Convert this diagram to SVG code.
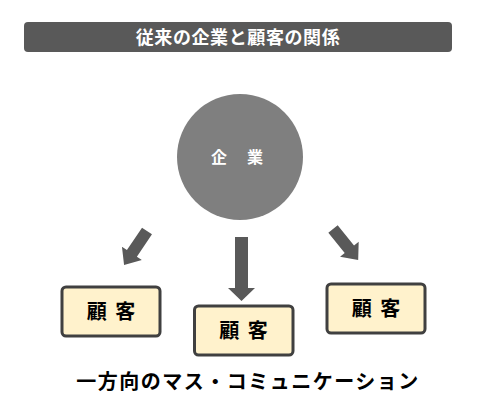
<svg xmlns="http://www.w3.org/2000/svg" width="495" height="407" viewBox="0 0 495 407">
<style>
.jp{font-family:"Noto Sans CJK JP","Noto Sans CJK SC",sans-serif;font-weight:bold}
.box{fill:#FFF2CC;stroke:#404040;stroke-width:3}
.arr{fill:#595959}
.bt{font-size:20px;fill:#000;text-anchor:middle;letter-spacing:2px}
</style>
<rect width="495" height="407" fill="#fff"/>
<g id="title">
<rect x="24" y="22" width="428" height="30" rx="4" fill="#595959"/>
<text class="jp" x="238" y="43.5" font-size="18" fill="#fff" text-anchor="middle" letter-spacing="0.6">従来の企業と顧客の関係</text>
</g>
<g id="company">
<circle cx="240" cy="157" r="63" fill="#7F7F7F"/>
<text class="jp" x="211 247" y="162.5" font-size="16" fill="#fff">企業</text>
</g>
<g id="connectors">
<path class="arr" transform="translate(147,231) rotate(34)" d="M-6,0H6V27H12L0,41L-12,27H-6Z"/>
<path class="arr" transform="translate(241.5,237)" d="M-6.5,0H6.5V51H13.5L0,64L-13.5,51H-6.5Z"/>
<path class="arr" transform="translate(333,229) rotate(-39)" d="M-6,0H6V26H12L0,40L-12,26H-6Z"/>
</g>
<g id="customer1">
<rect class="box" x="62" y="287" width="98" height="49" rx="4"/>
<text class="jp bt" x="112" y="319" xml:space="preserve">顧 客</text>
</g>
<g id="customer2">
<rect class="box" x="194.5" y="306" width="98.5" height="49" rx="4"/>
<text class="jp bt" x="244.5" y="338" xml:space="preserve">顧 客</text>
</g>
<g id="customer3">
<rect class="box" x="327" y="284" width="98" height="49" rx="4"/>
<text class="jp bt" x="377" y="316" xml:space="preserve">顧 客</text>
</g>
<g id="caption">
<text class="jp" x="248" y="388.5" font-size="20" fill="#000" text-anchor="middle" letter-spacing="1.5">一方向のマス・コミュニケーション</text>
</g>
</svg>
